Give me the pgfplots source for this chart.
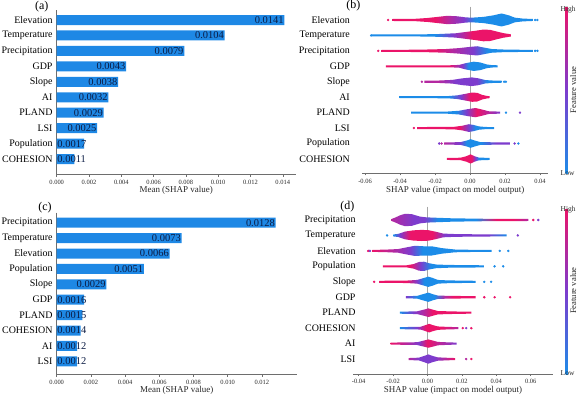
\documentclass[border=0pt]{standalone}
\usepackage{fontspec}
\setmainfont{Liberation Serif}
\usepackage{pgfplots}
\pgfplotsset{compat=1.18}
\definecolor{cR}{RGB}{235,20,105}
\definecolor{cB}{RGB}{28,140,232}
\definecolor{cP}{RGB}{125,60,205}
\definecolor{cM}{RGB}{180,40,160}
\definecolor{barc}{RGB}{30,136,229}
\definecolor{numc}{RGB}{12,28,68}
\definecolor{axgray}{RGB}{110,110,110}
\definecolor{tickc}{RGB}{40,40,40}
% shadings for panel (b)
\pgfdeclarehorizontalshading{shB0}{100bp}{color(0bp)=(cR); color(40.2bp)=(cR); color(45.2bp)=(cM); color(50.7bp)=(cP); color(54.5bp)=(cB); color(100bp)=(cB)}
\pgfdeclarehorizontalshading{shB1}{100bp}{color(0bp)=(cB); color(47.7bp)=(cB); color(54bp)=(cP); color(57.8bp)=(cM); color(61bp)=(cR); color(100bp)=(cR)}
\pgfdeclarehorizontalshading{shB2}{100bp}{color(0bp)=(cR); color(42.6bp)=(cR); color(48.4bp)=(cM); color(55.4bp)=(cP); color(60bp)=(cB); color(100bp)=(cB)}
\pgfdeclarehorizontalshading{shB3}{100bp}{color(0bp)=(cR); color(53.3bp)=(cR); color(56.4bp)=(cM); color(59.5bp)=(cP); color(61.9bp)=(cB); color(100bp)=(cB)}
\pgfdeclarehorizontalshading{shB4}{100bp}{color(0bp)=(cM); color(34.2bp)=(cM); color(45.5bp)=(cP); color(59.1bp)=(cP); color(65.9bp)=(cB); color(100bp)=(cB)}
\pgfdeclarehorizontalshading{shB5}{100bp}{color(0bp)=(cB); color(52.4bp)=(cB); color(59.2bp)=(cP); color(64.1bp)=(cR); color(100bp)=(cR)}
\pgfdeclarehorizontalshading{shB6}{100bp}{color(0bp)=(cB); color(50.2bp)=(cB); color(56.1bp)=(cP); color(62bp)=(cR); color(68.9bp)=(cM); color(75bp)=(cP); color(100bp)=(cP)}
\pgfdeclarehorizontalshading{shB7}{100bp}{color(0bp)=(cR); color(52.5bp)=(cR); color(58.2bp)=(cP); color(62.8bp)=(cB); color(100bp)=(cB)}
\pgfdeclarehorizontalshading{shB8}{100bp}{color(0bp)=(cM); color(25bp)=(cM); color(36.7bp)=(cP); color(42bp)=(cB); color(52.6bp)=(cB); color(64.5bp)=(cP); color(100bp)=(cP)}
\pgfdeclarehorizontalshading{shB9}{100bp}{color(0bp)=(cR); color(54.2bp)=(cR); color(58.3bp)=(cP); color(62.3bp)=(cB); color(100bp)=(cB)}
% shadings for panel (d)
\pgfdeclarehorizontalshading{shD0}{100bp}{color(0bp)=(cM); color(25bp)=(cM); color(33.1bp)=(cP); color(36.9bp)=(cP); color(41.9bp)=(cB); color(55.8bp)=(cB); color(63.3bp)=(cR); color(69.6bp)=(cR); color(75bp)=(cM); color(100bp)=(cM)}
\pgfdeclarehorizontalshading{shD1}{100bp}{color(0bp)=(cB); color(25bp)=(cB); color(28bp)=(cP); color(32.5bp)=(cR); color(42.4bp)=(cR); color(47.7bp)=(cP); color(66.7bp)=(cP); color(75bp)=(cB); color(100bp)=(cB)}
\pgfdeclarehorizontalshading{shD2}{100bp}{color(0bp)=(cR); color(25bp)=(cR); color(33.7bp)=(cM); color(40.9bp)=(cP); color(45.9bp)=(cB); color(100bp)=(cB)}
\pgfdeclarehorizontalshading{shD3}{100bp}{color(0bp)=(cR); color(38.6bp)=(cR); color(43.6bp)=(cP); color(48.7bp)=(cB); color(100bp)=(cB)}
\pgfdeclarehorizontalshading{shD4}{100bp}{color(0bp)=(cR); color(39.3bp)=(cR); color(44.6bp)=(cP); color(48.2bp)=(cB); color(100bp)=(cB)}
\pgfdeclarehorizontalshading{shD5}{100bp}{color(0bp)=(cP); color(25bp)=(cP); color(33bp)=(cB); color(45.4bp)=(cB); color(52.8bp)=(cM); color(59bp)=(cR); color(100bp)=(cR)}
\pgfdeclarehorizontalshading{shD6}{100bp}{color(0bp)=(cB); color(25bp)=(cB); color(34.6bp)=(cP); color(41.9bp)=(cM); color(47.9bp)=(cR); color(100bp)=(cR)}
\pgfdeclarehorizontalshading{shD7}{100bp}{color(0bp)=(cB); color(25bp)=(cB); color(39.7bp)=(cP); color(47.1bp)=(cR); color(60.3bp)=(cR); color(75bp)=(cM); color(100bp)=(cM)}
\pgfdeclarehorizontalshading{shD8}{100bp}{color(0bp)=(cR); color(25bp)=(cR); color(37.3bp)=(cM); color(46.4bp)=(cP); color(52.9bp)=(cR); color(63.3bp)=(cM); color(75bp)=(cP); color(100bp)=(cP)}
\pgfdeclarehorizontalshading{shD9}{100bp}{color(0bp)=(cM); color(25bp)=(cM); color(36.1bp)=(cP); color(52.8bp)=(cP); color(63.9bp)=(cM); color(75bp)=(cR); color(100bp)=(cR)}

\pgfplotsset{
  base/.style={scale only axis, anchor=north west, y dir=reverse,
    scaled x ticks=false,
    ytick={0,1,2,3,4,5,6,7,8,9}, ytick style={draw=none},
    yticklabel style={font=\fontsize{10}{12}\selectfont, anchor=east, inner sep=0pt},
    xtick align=outside, major tick length=2bp,
    xtick style={color=axgray, line width=0.5bp},
    xticklabel style={font=\fontsize{6.5}{7.5}\selectfont, text=tickc},
    axis line style={color=axgray, line width=0.6bp, -},
    xlabel style={font=\fontsize{9}{11}\selectfont, at={(axis description cs:0.5,0)}, anchor=center, text=tickc},
    axis x line*=bottom, axis y line*=left},
  swarm/.style={draw=none, shade},
  dots/.style={only marks, mark=*, mark size=1bp},
  cbar/.style={colorbar, colormap={shapmap}{rgb255=(28,140,232) rgb255=(125,60,205) rgb255=(235,20,105)},
    point meta min=0, point meta max=1}
}

\begin{document}
\begin{tikzpicture}
\useasboundingbox (0bp,0bp) rectangle (579bp,-399bp);

% ---------------- (a) ----------------
\begin{axis}[base, at={(56.7bp,-10bp)}, width=239bp, height=164.5bp,
  xmin=0, xmax=0.0148, ymin=-0.65, ymax=10,
  xtick={0,0.002,0.004,0.006,0.008,0.010,0.012,0.014},
  xticklabels={0.000,0.002,0.004,0.006,0.008,0.010,0.012,0.014},
  yticklabels={Elevation,Temperature,Precipitation,GDP,Slope,AI,PLAND,LSI,Population,COHESION},
  yticklabel style={xshift=-4bp},
  xlabel={Mean (SHAP value)}, xlabel style={yshift=-16bp}, clip=false]
\addplot[xbar, bar width=10bp, fill=barc, draw=none] coordinates {
 (0.0141,0) (0.0104,1) (0.0079,2) (0.0043,3) (0.0038,4) (0.0032,5) (0.0029,6) (0.0025,7) (0.0017,8) (0.0011,9)};
\addplot[draw=none, mark=none, nodes near coords, point meta=explicit symbolic,
  every node near coord/.append style={anchor=east, inner sep=0.6bp, font=\fontsize{10.5}{12}\selectfont, text=numc}]
 coordinates {(0.0141,0) [0.0141] (0.0104,1) [0.0104] (0.0079,2) [0.0079] (0.0043,3) [0.0043] (0.0038,4) [0.0038] (0.0032,5) [0.0032] (0.0029,6) [0.0029] (0.0025,7) [0.0025]};
\addplot[draw=none, mark=none, nodes near coords, point meta=explicit symbolic,
  every node near coord/.append style={anchor=west, inner sep=0.6bp, font=\fontsize{10.5}{12}\selectfont, text=numc}]
 coordinates {(0,8) [0.0017] (0,9) [0.0011]};
\end{axis}

% ---------------- (c) ----------------
\begin{axis}[base, at={(56.7bp,-212.7bp)}, width=240bp, height=161.8bp,
  xmin=0, xmax=0.014035, ymin=-0.65, ymax=9.857,
  xtick={0,0.002,0.004,0.006,0.008,0.010,0.012},
  xticklabels={0.000,0.002,0.004,0.006,0.008,0.010,0.012},
  yticklabels={Precipitation,Temperature,Elevation,Population,Slope,GDP,PLAND,COHESION,AI,LSI},
  yticklabel style={xshift=-4bp},
  xlabel={Mean (SHAP value)}, xlabel style={yshift=-15.5bp}, clip=false]
\addplot[xbar, bar width=10bp, fill=barc, draw=none] coordinates {
 (0.0128,0) (0.0073,1) (0.0066,2) (0.0051,3) (0.0029,4) (0.0016,5) (0.0015,6) (0.0014,7) (0.0012,8) (0.0012,9)};
\addplot[draw=none, mark=none, nodes near coords, point meta=explicit symbolic,
  every node near coord/.append style={anchor=east, inner sep=0.6bp, font=\fontsize{10.5}{12}\selectfont, text=numc}]
 coordinates {(0.0128,0) [0.0128] (0.0073,1) [0.0073] (0.0066,2) [0.0066] (0.0051,3) [0.0051] (0.0029,4) [0.0029]};
\addplot[draw=none, mark=none, nodes near coords, point meta=explicit symbolic,
  every node near coord/.append style={anchor=west, inner sep=0.6bp, font=\fontsize{10.5}{12}\selectfont, text=numc}]
 coordinates {(0,5) [0.0016] (0,6) [0.0015] (0,7) [0.0014] (0,8) [0.0012] (0,9) [0.0012]};
\end{axis}

% ---------------- (b) ----------------
\begin{axis}[base, at={(362.4bp,-6.7bp)}, width=185.5bp, height=166.6bp,
  xmin=-0.0615, xmax=0.0445, ymin=-0.86, ymax=9.93,
  y axis line style={draw=none},
  xtick={-0.06,-0.04,-0.02,0,0.02,0.04},
  xticklabels={-0.06,-0.04,-0.02,0.00,0.02,0.04},
  yticklabels={Elevation,Temperature,Precipitation,GDP,Slope,AI,PLAND,LSI,Population,COHESION},
  yticklabel style={xshift=-12.4bp},
  xlabel={SHAP value (impact on model output)}, xlabel style={yshift=-16.7bp},
  cbar, colorbar style={at={(parent axis.north east)}, anchor=north west, xshift=9.1bp,
    scale only axis, width=2.4bp, height=166.6bp, ytick=\empty, xtick=\empty,
    axis line style={draw=none}, major tick length=0pt}]
\addplot[gray!70, line width=0.6bp] coordinates {(0,-0.86) (0,9.93)};
\addplot[swarm, shading=shB0] coordinates {(-0.0443,-0.065)(-0.0308,-0.08)(-0.0242,-0.13)(-0.0186,-0.2)(-0.013,-0.27)(-0.0073,-0.24)(-0.0026,-0.17)(0.0011,-0.15)(0.0077,-0.2)(0.0133,-0.3)(0.018,-0.42)(0.0222,-0.3)(0.0256,-0.15)(0.0303,-0.09)(0.0359,-0.065)
 (0.0359,0.065)(0.0303,0.09)(0.0256,0.15)(0.0222,0.3)(0.018,0.42)(0.0133,0.3)(0.0077,0.2)(0.0011,0.15)(-0.0026,0.17)(-0.0073,0.24)(-0.013,0.27)(-0.0186,0.2)(-0.0242,0.13)(-0.0308,0.08)(-0.0443,0.065)} -- cycle;
\addplot[swarm, shading=shB1] coordinates {(-0.0562,0.935)(-0.027,0.93)(-0.018,0.91)(-0.0082,0.86)(-0.0026,0.78)(0.003,0.7)(0.0077,0.62)(0.0115,0.64)(0.0153,0.75)(0.019,0.85)(0.0234,0.93)
 (0.0234,1.07)(0.019,1.15)(0.0153,1.25)(0.0115,1.36)(0.0077,1.38)(0.003,1.3)(-0.0026,1.22)(-0.0082,1.14)(-0.018,1.09)(-0.027,1.07)(-0.0562,1.065)} -- cycle;
\addplot[swarm, shading=shB2] coordinates {(-0.0505,1.935)(-0.0364,1.93)(-0.0232,1.91)(-0.0138,1.88)(-0.0062,1.82)(-0.0006,1.75)(0.0041,1.7)(0.0077,1.78)(0.0124,1.88)(0.018,1.91)(0.0294,1.93)(0.0359,1.935)
 (0.0359,2.065)(0.0294,2.07)(0.018,2.09)(0.0124,2.12)(0.0077,2.22)(0.0041,2.3)(-0.0006,2.25)(-0.0062,2.18)(-0.0138,2.12)(-0.0232,2.09)(-0.0364,2.07)(-0.0505,2.065)} -- cycle;
\addplot[swarm, shading=shB3] coordinates {(-0.0481,2.935)(-0.0119,2.935)(-0.0062,2.91)(-0.0026,2.8)(0.0021,2.7)(0.0058,2.75)(0.0096,2.88)(0.0124,2.92)(0.0158,2.935)
 (0.0158,3.065)(0.0124,3.08)(0.0096,3.12)(0.0058,3.25)(0.0021,3.3)(-0.0026,3.2)(-0.0062,3.09)(-0.0119,3.065)(-0.0481,3.065)} -- cycle;
\addplot[swarm, shading=shB4] coordinates {(-0.0261,3.935)(-0.0176,3.92)(-0.0101,3.88)(-0.0044,3.78)(0.0011,3.72)(0.0049,3.78)(0.0087,3.89)(0.0143,3.93)(0.018,3.935)
 (0.018,4.065)(0.0143,4.07)(0.0087,4.11)(0.0049,4.22)(0.0011,4.28)(-0.0044,4.22)(-0.0101,4.12)(-0.0176,4.08)(-0.0261,4.065)} -- cycle;
\addplot[swarm, shading=shB5] coordinates {(-0.0402,4.935)(-0.0129,4.93)(-0.0072,4.88)(-0.0025,4.78)(0.0012,4.7)(0.0041,4.72)(0.0069,4.85)(0.0097,4.92)(0.0112,4.935)
 (0.0112,5.065)(0.0097,5.08)(0.0069,5.15)(0.0041,5.28)(0.0012,5.3)(-0.0025,5.22)(-0.0072,5.12)(-0.0129,5.07)(-0.0402,5.065)} -- cycle;
\addplot[swarm, shading=shB6] coordinates {(-0.0336,5.935)(-0.0129,5.93)(-0.0063,5.88)(-0.0016,5.78)(0.0031,5.7)(0.0069,5.8)(0.0106,5.91)(0.0172,5.935)
 (0.0172,6.065)(0.0106,6.09)(0.0069,6.2)(0.0031,6.3)(-0.0016,6.22)(-0.0063,6.12)(-0.0129,6.07)(-0.0336,6.065)} -- cycle;
\addplot[swarm, shading=shB7] coordinates {(-0.0302,6.935)(-0.0092,6.92)(-0.0044,6.85)(-0.0007,6.75)(0.0021,6.8)(0.005,6.89)(0.0088,6.93)(0.0138,6.935)
 (0.0138,7.065)(0.0088,7.07)(0.005,7.11)(0.0021,7.2)(-0.0007,7.25)(-0.0044,7.15)(-0.0092,7.08)(-0.0302,7.065)} -- cycle;
\addplot[swarm, shading=shB8] coordinates {(-0.0148,7.935)(-0.0054,7.91)(-0.0016,7.8)(0.0003,7.72)(0.0025,7.8)(0.0059,7.91)(0.0191,7.93)(0.0229,7.935)
 (0.0229,8.065)(0.0191,8.07)(0.0059,8.09)(0.0025,8.2)(0.0003,8.28)(-0.0016,8.2)(-0.0054,8.09)(-0.0148,8.065)} -- cycle;
\addplot[swarm, shading=shB9] coordinates {(-0.0133,8.935)(-0.0054,8.92)(-0.002,8.82)(0.0003,8.7)(0.0025,8.82)(0.005,8.91)(0.0112,8.935)
 (0.0112,9.065)(0.005,9.09)(0.0025,9.18)(0.0003,9.3)(-0.002,9.18)(-0.0054,9.08)(-0.0133,9.065)} -- cycle;
\addplot[dots, color=cR] coordinates {(-0.0468,0) (-0.0524,2) (-0.0321,7)};
\addplot[dots, color=cB] coordinates {(0.0372,0)(0.0385,0)(-0.0565,1)(0.0372,2)(0.0385,2)(0.0195,4)(0.0205,4)(0.0205,6)(0.0276,8)};
\addplot[dots, color=cP] coordinates {(0.0285,6)(-0.0176,8)(0.0255,8)};
\addplot[dots, color=cM] coordinates {(-0.0162,8)(-0.0275,4)};
\end{axis}

% ---------------- (d) ----------------
\begin{axis}[base, at={(353bp,-206.7bp)}, width=200bp, height=167.3bp,
  xmin=-0.04331, xmax=0.07297, ymin=-0.86, ymax=9.968,
  y axis line style={draw=none},
  xtick={-0.04,-0.02,0,0.02,0.04,0.06},
  xticklabels={-0.04,-0.02,0.00,0.02,0.04,0.06},
  yticklabels={Precipitation,Temperature,Elevation,Population,Slope,GDP,PLAND,COHESION,AI,LSI},
  yticklabel style={xshift=2.7bp},
  xlabel={SHAP value (impact on model output)}, xlabel style={yshift=-16bp},
  cbar, colorbar style={at={(parent axis.north east)}, anchor=north west, xshift=4bp, yshift=-1.3bp,
    scale only axis, width=2.4bp, height=166bp, ytick=\empty, xtick=\empty,
    axis line style={draw=none}, major tick length=0pt}]
\addplot[gray!70, line width=0.6bp] coordinates {(0,-0.86) (0,9.968)};
\addplot[swarm, shading=shD0] coordinates {(-0.0208,-0.07)(-0.0189,-0.15)(-0.016,-0.3)(-0.0131,-0.4)(-0.0092,-0.38)(-0.0044,-0.22)(-0.0005,-0.17)(0.0063,-0.14)(0.0141,-0.11)(0.0257,-0.09)(0.0392,-0.07)(0.0586,-0.065)
 (0.0586,0.065)(0.0392,0.07)(0.0257,0.09)(0.0141,0.11)(0.0063,0.14)(-0.0005,0.17)(-0.0044,0.22)(-0.0092,0.38)(-0.0131,0.4)(-0.016,0.3)(-0.0189,0.15)(-0.0208,0.07)} -- cycle;
\addplot[swarm, shading=shD1] coordinates {(-0.0199,0.935)(-0.017,0.9)(-0.0131,0.75)(-0.0083,0.67)(-0.0034,0.64)(0.0005,0.66)(0.0044,0.75)(0.0092,0.88)(0.016,0.91)(0.0315,0.93)(0.046,0.935)
 (0.046,1.065)(0.0315,1.07)(0.016,1.09)(0.0092,1.12)(0.0044,1.25)(0.0005,1.34)(-0.0034,1.36)(-0.0083,1.33)(-0.0131,1.25)(-0.017,1.1)(-0.0199,1.065)} -- cycle;
\addplot[swarm, shading=shD2] coordinates {(-0.032,1.935)(-0.0247,1.92)(-0.017,1.88)(-0.0112,1.75)(-0.0073,1.67)(-0.0024,1.7)(0.0024,1.7)(0.0083,1.82)(0.016,1.91)(0.0257,1.93)(0.0373,1.935)
 (0.0373,2.065)(0.0257,2.07)(0.016,2.09)(0.0083,2.18)(0.0024,2.3)(-0.0024,2.3)(-0.0073,2.33)(-0.0112,2.25)(-0.017,2.12)(-0.0247,2.08)(-0.032,2.065)} -- cycle;
\addplot[swarm, shading=shD3] coordinates {(-0.026,2.935)(-0.012,2.93)(-0.008,2.85)(-0.005,2.72)(-0.002,2.7)(0.001,2.8)(0.005,2.88)(0.012,2.91)(0.025,2.92)(0.033,2.935)
 (0.033,3.065)(0.025,3.08)(0.012,3.09)(0.005,3.12)(0.001,3.2)(-0.002,3.3)(-0.005,3.28)(-0.008,3.15)(-0.012,3.07)(-0.026,3.065)} -- cycle;
\addplot[swarm, shading=shD4] coordinates {(-0.028,3.935)(-0.012,3.92)(-0.006,3.88)(-0.002,3.75)(0.0005,3.67)(0.003,3.75)(0.006,3.88)(0.012,3.91)(0.025,3.93)(0.028,3.935)
 (0.028,4.065)(0.025,4.07)(0.012,4.09)(0.006,4.12)(0.003,4.25)(0.0005,4.33)(-0.002,4.25)(-0.006,4.12)(-0.012,4.08)(-0.028,4.065)} -- cycle;
\addplot[swarm, shading=shD5] coordinates {(-0.0125,4.935)(-0.006,4.91)(-0.002,4.78)(0.0005,4.7)(0.003,4.8)(0.006,4.89)(0.012,4.91)(0.02,4.92)(0.028,4.935)
 (0.028,5.065)(0.02,5.08)(0.012,5.09)(0.006,5.11)(0.003,5.2)(0.0005,5.3)(-0.002,5.22)(-0.006,5.09)(-0.0125,5.065)} -- cycle;
\addplot[swarm, shading=shD6] coordinates {(-0.016,5.935)(-0.006,5.91)(-0.002,5.8)(0.0005,5.72)(0.003,5.8)(0.006,5.89)(0.012,5.91)(0.02,5.93)(0.0255,5.935)
 (0.0255,6.065)(0.02,6.07)(0.012,6.09)(0.006,6.11)(0.003,6.2)(0.0005,6.28)(-0.002,6.2)(-0.006,6.09)(-0.016,6.065)} -- cycle;
\addplot[swarm, shading=shD7] coordinates {(-0.016,6.935)(-0.004,6.91)(-0.001,6.8)(0.001,6.72)(0.003,6.8)(0.006,6.89)(0.012,6.92)(0.018,6.935)
 (0.018,7.065)(0.012,7.08)(0.006,7.11)(0.003,7.2)(0.001,7.28)(-0.001,7.2)(-0.004,7.09)(-0.016,7.065)} -- cycle;
\addplot[swarm, shading=shD8] coordinates {(-0.0215,7.935)(-0.006,7.91)(-0.002,7.8)(0.0005,7.73)(0.003,7.8)(0.006,7.89)(0.012,7.92)(0.017,7.935)
 (0.017,8.065)(0.012,8.08)(0.006,8.11)(0.003,8.2)(0.0005,8.27)(-0.002,8.2)(-0.006,8.09)(-0.0215,8.065)} -- cycle;
\addplot[swarm, shading=shD9] coordinates {(-0.011,8.935)(-0.005,8.91)(-0.002,8.8)(0.0005,8.7)(0.003,8.8)(0.006,8.89)(0.012,8.92)(0.016,8.935)
 (0.016,9.065)(0.012,9.08)(0.006,9.11)(0.003,9.2)(0.0005,9.3)(-0.002,9.2)(-0.005,9.09)(-0.011,9.065)} -- cycle;
\addplot[dots, color=cR] coordinates {(0.0615,0)(-0.0345,2)(-0.031,4)(0.033,5)(0.039,5)(0.048,5)(0.0205,7)(0.0255,7)(0.0255,9)};
\addplot[dots, color=cP] coordinates {(0.0644,0)(0.0525,1)(-0.0335,2)(0.0225,7)};
\addplot[dots, color=cB] coordinates {(-0.0235,1)(0.042,2)(0.047,2)(0.039,3)(0.044,3)(0.033,4)(0.037,4)};
\addplot[dots, color=cM] coordinates {(0.0225,9)};
\end{axis}

% panel letters and colorbar texts
\node[font=\fontsize{12}{14}\selectfont] at (41.7bp,-6.2bp) {(a)};
\node[font=\fontsize{12}{14}\selectfont] at (353.3bp,-6bp) {(b)};
\node[font=\fontsize{12}{14}\selectfont] at (45bp,-207.3bp) {(c)};
\node[font=\fontsize{12}{14}\selectfont] at (347.3bp,-206.7bp) {(d)};
\node[font=\fontsize{7.5}{9}\selectfont, anchor=west, inner sep=0pt, text=tickc] at (560.5bp,-9.3bp) {High};
\node[font=\fontsize{7.5}{9}\selectfont, anchor=west, inner sep=0pt, text=tickc] at (560.5bp,-173bp) {Low};
\node[font=\fontsize{8.6}{10}\selectfont, rotate=90, inner sep=0pt, text=tickc] at (573.3bp,-90bp) {Feature value};
\node[font=\fontsize{7.5}{9}\selectfont, anchor=west, inner sep=0pt, text=tickc] at (560.5bp,-209.3bp) {High};
\node[font=\fontsize{7.5}{9}\selectfont, anchor=west, inner sep=0pt, text=tickc] at (560.5bp,-373.3bp) {Low};
\node[font=\fontsize{8.6}{10}\selectfont, rotate=90, inner sep=0pt, text=tickc] at (573.3bp,-290.7bp) {Feature value};
\end{tikzpicture}
\end{document}
